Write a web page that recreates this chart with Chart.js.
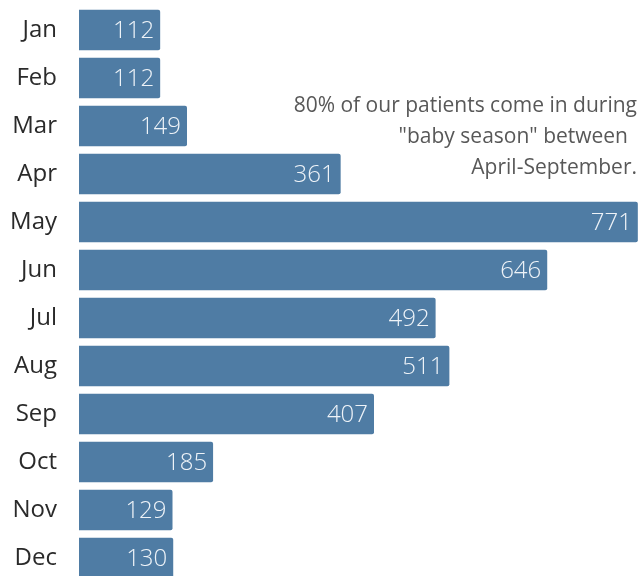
<!DOCTYPE html>
<html>
<head>
<meta charset="utf-8">
<script src="https://cdn.jsdelivr.net/npm/chart.js@4"></script>
<style>
  html, body { margin: 0; padding: 0; background: #fff; overflow: hidden; }
  #wrap { position: relative; width: 640px; height: 584px; }
</style>
</head>
<body>
<div id="wrap"><canvas id="chart"></canvas></div>
<script>
const months = ['Jan', 'Feb', 'Mar', 'Apr', 'May', 'Jun', 'Jul', 'Aug', 'Sep', 'Oct', 'Nov', 'Dec']
const patients = [112, 112, 149, 361, 771, 646, 492, 511, 407, 185, 129, 130]
const note = ['80% of our patients come in during', '"baby season" between', 'April-September.']
const noteRight = [637, 628, 637]

const FONT = "'Open Sans', 'Noto Sans', sans-serif"

// value label at the right end of each bar
const barValues = {
  id: 'barValues',
  afterDatasetsDraw(chart) {
    const ctx = chart.ctx
    const meta = chart.getDatasetMeta(0)
    ctx.save()
    ctx.font = '300 24px ' + FONT
    ctx.fillStyle = '#eef3f8'
    ctx.textAlign = 'right'
    ctx.textBaseline = 'middle'
    meta.data.forEach((bar, i) => {
      ctx.fillText(String(patients[i]), bar.x - 6, bar.y + 1)
    })
    ctx.restore()
  },
}

// annotation text at the top right
const noteText = {
  id: 'noteText',
  afterDraw(chart) {
    const ctx = chart.ctx
    ctx.save()
    ctx.font = '21px ' + FONT
    ctx.fillStyle = '#585858'
    ctx.textAlign = 'right'
    ctx.textBaseline = 'middle'
    note.forEach((line, i) => {
      ctx.fillText(line, noteRight[i], 106 + i * 31)
    })
    ctx.restore()
  },
}

new Chart(document.getElementById('chart'), {
  type: 'bar',
  data: {
    labels: months,
    datasets: [{
      data: patients,
      backgroundColor: '#4f7ca4',
      borderRadius: 2,
      borderSkipped: 'start',
      barPercentage: 0.84,
      categoryPercentage: 1,
    }],
  },
  options: {
    indexAxis: 'y',
    responsive: true,
    maintainAspectRatio: false,
    animation: false,
    layout: { padding: { top: 6, bottom: 2, left: 0, right: 0 } },
    plugins: {
      legend: { display: false },
      tooltip: { enabled: false },
    },
    scales: {
      x: {
        display: false,
        min: 0,
        max: 774,
      },
      y: {
        grid: { display: false, drawTicks: false },
        border: { display: false },
        ticks: {
          padding: 22,
          color: '#2a2a2a',
          font: { family: FONT, size: 24 },
        },
        afterFit(scale) {
          scale.width = 79
          scale.paddingTop = 0
          scale.paddingBottom = 0
        },
      },
    },
  },
  plugins: [barValues, noteText],
})
</script>
</body>
</html>
